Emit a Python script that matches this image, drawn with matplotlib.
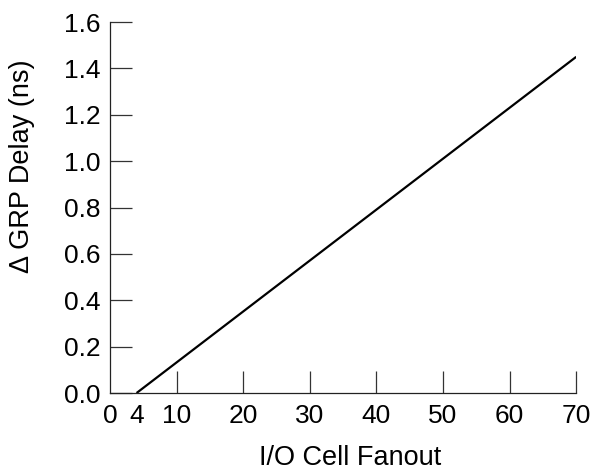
import matplotlib
matplotlib.use("Agg")
import matplotlib.pyplot as plt

fanout = [4, 70]
delay = [0.0, 1.45]
xtick_vals = [0, 4, 10, 20, 30, 40, 50, 60, 70]
xtick_labels = ["0", "4", "10", "20", "30", "40", "50", "60", "70"]
ytick_vals = [0.0, 0.2, 0.4, 0.6, 0.8, 1.0, 1.2, 1.4, 1.6]
ytick_labels = ["0.0", "0.2", "0.4", "0.6", "0.8", "1.0", "1.2", "1.4", "1.6"]

plt.rcParams['font.family'] = ['Liberation Sans', 'DejaVu Sans']
fig = plt.figure(figsize=(5.91, 4.75), dpi=100)
ax = fig.add_axes([0.186, 0.1726, 0.789, 0.781])
ax.plot(fanout, delay, color='black', linewidth=1.6, solid_capstyle='butt')
ax.set_xlim(0, 70)
ax.set_ylim(0, 1.6)
ax.set_xticks(xtick_vals)
ax.set_xticklabels(xtick_labels)
ax.set_yticks(ytick_vals)
ax.set_yticklabels(ytick_labels)
for s in ['top', 'right']:
    ax.spines[s].set_visible(False)
for s in ['left', 'bottom']:
    ax.spines[s].set_linewidth(0.9)
    ax.spines[s].set_color('#222222')
ax.tick_params(axis='both', direction='in', length=15.5, width=0.9, color='#333333', labelsize=19)
ax.tick_params(axis='x', pad=8)
ax.tick_params(axis='y', pad=7)
for t in ax.xaxis.get_major_ticks()[:2]:
    t.tick1line.set_visible(False)
ax.set_xlabel("I/O Cell Fanout", fontsize=19.5)
ax.set_ylabel("Δ GRP Delay (ns)", fontsize=19.5)
ax.xaxis.set_label_coords(0.515, -0.14)
ax.yaxis.set_label_coords(-0.16, 0.61)
fig.savefig("out.png", dpi=100)
